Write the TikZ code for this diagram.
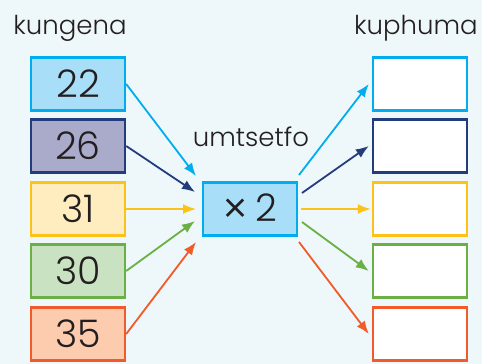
\documentclass[tikz,border=0pt]{standalone}
\usepackage{fontspec}
\setmainfont{Poppins Light}
\usetikzlibrary{arrows.meta}
\definecolor{bg}{HTML}{EEF7F9}
\definecolor{cyanl}{HTML}{00AEEF}
\definecolor{cyanf}{HTML}{A9DEF9}
\definecolor{navyl}{HTML}{233C7E}
\definecolor{navyf}{HTML}{AAABCB}
\definecolor{yell}{HTML}{FDC218}
\definecolor{yelf}{HTML}{FFEDBF}
\definecolor{grnl}{HTML}{6BB044}
\definecolor{grnf}{HTML}{C8E2C2}
\definecolor{orgl}{HTML}{F15A29}
\definecolor{orgf}{HTML}{FDCBAE}
\definecolor{txt}{HTML}{231F20}
\begin{document}
\begin{tikzpicture}[x=1pt,y=-1pt,
  numbox/.style={draw,line width=2.4pt,minimum width=94pt,minimum height=53pt,inner sep=0pt,font=\fontsize{38}{38}\selectfont,text=txt},
  lbl/.style={font=\fontsize{26}{26}\selectfont,text=txt,inner sep=0pt},
  arr/.style={line width=1.8pt,-{Latex[length=13pt,width=10pt]}}]
\useasboundingbox[fill=bg] (0,0) rectangle (482,364);
\node[lbl] (lin) at (70,28) {kungena};
\node[lbl] (lout) at (416,28) {kuphuma};
\node[lbl] (lmid) at (251,137) {umtsetfo};
\node[numbox,draw=cyanl,fill=cyanf] (a1) at (78,84) {22};
\node[numbox,draw=navyl,fill=navyf] (a2) at (78,146) {26};
\node[numbox,draw=yell,fill=yelf] (a3) at (78,209) {31};
\node[numbox,draw=grnl,fill=grnf] (a4) at (78,271) {30};
\node[numbox,draw=orgl,fill=orgf] (a5) at (78,334) {35};
\node[numbox,draw=cyanl,fill=cyanf] (m) at (250,209) {\raisebox{-3.5pt}{\fontsize{44}{44}\selectfont ×}\hspace{7pt}2};
\node[numbox,draw=cyanl,fill=white] (b1) at (420,84) {};
\node[numbox,draw=navyl,fill=white] (b2) at (420,146) {};
\node[numbox,draw=yell,fill=white] (b3) at (420,209) {};
\node[numbox,draw=grnl,fill=white] (b4) at (420,271) {};
\node[numbox,draw=orgl,fill=white] (b5) at (420,334) {};
\coordinate (i1) at ([shift={(-54,-33)}]m.center);
\coordinate (i2) at ([shift={(-55,-17)}]m.center);
\coordinate (i3) at ([shift={(-54,0)}]m.center);
\coordinate (i4) at ([shift={(-55,12)}]m.center);
\coordinate (i5) at ([shift={(-54,33)}]m.center);
\coordinate (o1) at ([shift={(49,-34)}]m.center);
\coordinate (o2) at ([shift={(52,-16)}]m.center);
\coordinate (o3) at ([shift={(51,0)}]m.center);
\coordinate (o4) at ([shift={(52,13)}]m.center);
\coordinate (o5) at ([shift={(49,33)}]m.center);
\draw[arr,draw=cyanl] (a1.east) -- (i1);
\draw[arr,draw=navyl] (a2.east) -- (i2);
\draw[arr,draw=yell] (a3.east) -- (i3);
\draw[arr,draw=grnl] (a4.east) -- (i4);
\draw[arr,draw=orgl] (a5.east) -- (i5);
\draw[arr,draw=cyanl] (o1) -- ([xshift=-3pt]b1.west);
\draw[arr,draw=navyl] (o2) -- ([xshift=-3pt]b2.west);
\draw[arr,draw=yell] (o3) -- ([xshift=-1pt]b3.west);
\draw[arr,draw=grnl] (o4) -- ([xshift=-3pt]b4.west);
\draw[arr,draw=orgl] (o5) -- ([xshift=-3pt]b5.west);
\end{tikzpicture}
\end{document}
